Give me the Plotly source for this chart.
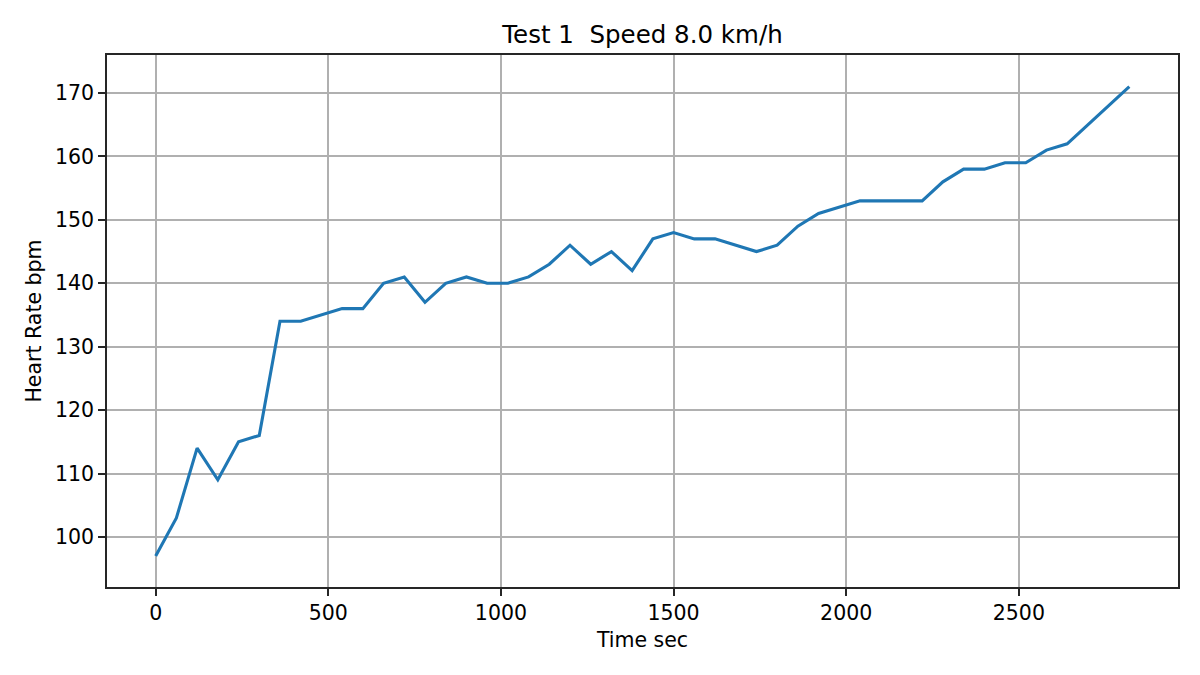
import plotly.graph_objects as go

time_sec = [0, 60, 120, 180, 240, 300, 360, 420, 540, 600, 660, 720, 780, 840, 900,
            960, 1020, 1080, 1140, 1200, 1260, 1320, 1380, 1440, 1500, 1560, 1620,
            1740, 1800, 1860, 1920, 2040, 2100, 2160, 2220, 2280, 2340, 2400, 2460,
            2520, 2580, 2640, 2820]
heart_rate = [97, 103, 114, 109, 115, 116, 134, 134, 136, 136, 140, 141, 137, 140, 141,
              140, 140, 141, 143, 146, 143, 145, 142, 147, 148, 147, 147,
              145, 146, 149, 151, 153, 153, 153, 153, 156, 158, 158, 159,
              159, 161, 162, 171]
x_ticks = [0, 500, 1000, 1500, 2000, 2500]
y_ticks = [100, 110, 120, 130, 140, 150, 160, 170]

font = "DejaVu Sans, Liberation Sans, sans-serif"
tick_size = 20.5

fig = go.Figure()
fig.add_trace(go.Scatter(x=time_sec, y=heart_rate, mode="lines",
                         line=dict(color="#1f77b4", width=3.1), hoverinfo="x+y"))

axis_common = dict(
    showline=True, linecolor="#262626", linewidth=1.7, mirror=True,
    showgrid=True, gridcolor="#b0b0b0", gridwidth=1.6,
    ticks="outside", ticklen=7, tickwidth=1.6, tickcolor="#262626",
    tickfont=dict(family=font, size=tick_size, color="black"),
    zeroline=False,
)

fig.update_layout(
    width=1200, height=675,
    margin=dict(l=107, r=22, t=55, b=88),
    paper_bgcolor="white", plot_bgcolor="white",
    showlegend=False,
    title=dict(text="Test 1  Speed 8.0 km/h", x=0.5, xanchor="center", xref="paper",
               y=1 - 34 / 675, yanchor="middle", yref="container",
               font=dict(family=font, size=24.5, color="black")),
    xaxis=dict(range=[-141, 2961], tickvals=x_ticks,
               title=dict(text="Time sec", standoff=8,
                          font=dict(family=font, size=tick_size, color="black")),
               **axis_common),
    yaxis=dict(range=[92.1, 176.0], tickvals=y_ticks,
               title=dict(text="Heart Rate bpm", standoff=8,
                          font=dict(family=font, size=tick_size, color="black")),
               **axis_common),
)

fig.write_html("out.html")
